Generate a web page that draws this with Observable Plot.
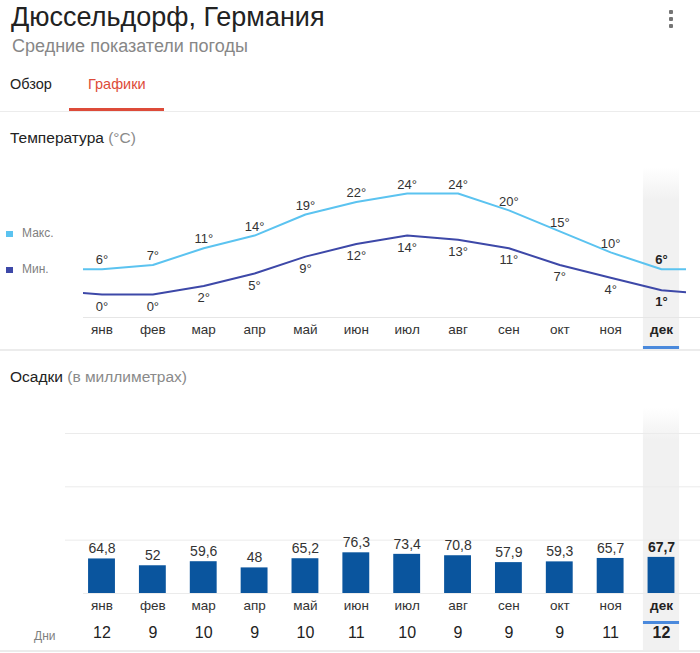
<!DOCTYPE html>
<html><head><meta charset="utf-8">
<script src="https://cdn.jsdelivr.net/npm/d3@7"></script>
<script src="https://cdn.jsdelivr.net/npm/@observablehq/plot@0.6"></script>
<style>
body{margin:0;background:#fff;font-family:"Liberation Sans",Arial,sans-serif;}
#page{position:relative;width:700px;height:653px;overflow:hidden;background:#fff;}
.abs{position:absolute;white-space:nowrap;}
.dot{position:absolute;width:4px;height:4px;border-radius:1px;background:#757575;left:669px;}
.chart{position:absolute;left:0;}
.chart svg{display:block;overflow:visible;}
</style></head><body><div id="page">
<div class="abs" style="left:11px;top:4.2px;font-size:27px;line-height:27px;color:#222">Дюссельдорф, Германия</div>
<div class="abs" style="left:12px;top:36.8px;font-size:18px;line-height:18px;color:#878787">Средние показатели погоды</div>
<div class="dot" style="top:10px"></div><div class="dot" style="top:17px"></div><div class="dot" style="top:24px"></div>
<div class="abs" style="left:10px;top:76.7px;font-size:14.5px;line-height:14.5px;color:#222">Обзор</div>
<div class="abs" style="left:88px;top:76.7px;font-size:14.5px;line-height:14.5px;color:#dd4b39">Графики</div>
<div class="abs" style="left:69px;top:107.5px;width:95px;height:3px;background:#dd4b39"></div>
<div class="abs" style="left:0;top:110.5px;width:700px;height:1.5px;background:#ececec"></div>
<div class="abs" style="left:10px;top:130px;font-size:15.5px;line-height:15.5px;color:#222">Температура <span style="color:#8a8a8a">(°C)</span></div>
<div class="abs" style="left:6px;top:230.5px;width:6.5px;height:6px;background:#5bc3f0"></div>
<div class="abs" style="left:22px;top:226.5px;font-size:12px;line-height:12px;color:#808080">Макс.</div>
<div class="abs" style="left:6px;top:266.5px;width:6.5px;height:6px;background:#3d48a8"></div>
<div class="abs" style="left:22px;top:262.5px;font-size:12px;line-height:12px;color:#808080">Мин.</div>
<div class="chart" id="temp" style="top:150px"></div>
<div class="abs" style="left:0;top:348.5px;width:700px;height:2px;background:#ececec"></div>
<div class="abs" style="left:10px;top:368.6px;font-size:15.5px;line-height:15.5px;color:#222">Осадки <span style="color:#8a8a8a">(в миллиметрах)</span></div>
<div class="chart" id="rain" style="top:400px"></div>
<div class="abs" style="left:34px;top:630px;font-size:12px;line-height:12px;color:#808080">Дни</div>
<div class="abs" style="left:0;top:650px;width:700px;height:2px;background:#ececec"></div>
</div>
<script>
const months = ["янв","фев","мар","апр","май","июн","июл","авг","сен","окт","ноя","дек"];
const maxTemp = [6,7,11,14,19,22,24,24,20,15,10,6];
const minTemp = [0,0,2,5,9,12,14,13,11,7,4,1];
const precip = [64.8,52,59.6,48,65.2,76.3,73.4,70.8,57.9,59.3,65.7,67.7];
const rainDays = [12,9,10,9,10,11,10,9,9,9,11,12];
const precipTicks = [100,200,300];
const highlight = 11;

const font = "'Liberation Sans', Arial, sans-serif";
const idx = d3.range(12);
const pts = idx.map(i => ({i, max: maxTemp[i], min: minTemp[i], p: precip[i], days: rainDays[i]}));
// continue each line into the neighbouring year (previous Dec / next Jan), clipped to the frame
const wrap = d3.range(-1, 13).map(i => ({i, max: maxTemp[(i + 12) % 12], min: minTemp[(i + 12) % 12]}));
const isHL = d => d.i === highlight;
const notHL = d => d.i !== highlight;
const fmt = v => String(v).replace(".", ",");
const half = 0.355;
const monthSize = 13.5;

const temp = Plot.plot({
  width: 700, height: 200,
  marginLeft: 83, marginRight: 14, marginTop: 17, marginBottom: 33,
  style: {fontFamily: font, fontSize: "13px", color: "#333", background: "transparent"},
  x: {type: "linear", domain: [0, 11], range: [101.5, 661]},
  y: {domain: [0, 24], range: [144, 43], axis: null},
  marks: [
    Plot.rect([highlight], {x1: d => d - half, x2: d => d + half, fill: "url(#hlT)", insetBottom: -32}),
    Plot.rect([highlight], {x1: d => d - half, x2: d => d + half, fill: "#4a89dc", insetTop: 179, insetBottom: -32}),
    Plot.frame({anchor: "bottom", stroke: "#e6e6e6", insetRight: -14}),
    Plot.line(wrap, {x: "i", y: "max", stroke: "#5bc3f0", strokeWidth: 2, clip: true}),
    Plot.line(wrap, {x: "i", y: "min", stroke: "#3d48a8", strokeWidth: 2, clip: true}),
    Plot.text(pts, {filter: notHL, x: "i", y: "max", text: d => d.max + "°", dy: -9, fill: "#333"}),
    Plot.text(pts, {filter: notHL, x: "i", y: "min", text: d => d.min + "°", dy: 12, fill: "#333"}),
    Plot.text(pts, {filter: isHL, x: "i", y: "max", text: d => d.max + "°", dy: -9, fill: "#222", fontWeight: "bold"}),
    Plot.text(pts, {filter: isHL, x: "i", y: "min", text: d => d.min + "°", dy: 12, fill: "#222", fontWeight: "bold"}),
    Plot.axisX({ticks: idx.filter(i => i !== highlight), tickFormat: i => months[i], tickSize: 0, tickPadding: 7, fill: "#333", fontSize: monthSize, label: null}),
    Plot.axisX({ticks: [highlight], tickFormat: i => months[i], tickSize: 0, tickPadding: 7, fill: "#222", fontWeight: "bold", fontSize: monthSize, label: null})
  ]
});

const rain = Plot.plot({
  width: 700, height: 253,
  marginLeft: 65, marginRight: 0, marginTop: 8, marginBottom: 60,
  style: {fontFamily: font, fontSize: "14px", color: "#333", background: "transparent"},
  x: {type: "linear", domain: [0, 11], range: [101.5, 661]},
  y: {domain: [0, 300], range: [193, 33], axis: null},
  marks: [
    Plot.rect([highlight], {x1: d => d - half, x2: d => d + half, fill: "url(#hlR)", insetBottom: -57}),
    Plot.gridY(precipTicks, {stroke: "#ebebeb", strokeOpacity: 1}),
    Plot.ruleY([0], {stroke: "#ebebeb", insetLeft: 18}),
    Plot.rect([highlight], {x1: d => d - half, x2: d => d + half, fill: "#4a89dc", insetTop: 213, insetBottom: -31}),
    Plot.rectY(pts, {x1: d => d.i - 0.5, x2: d => d.i + 0.5, y: "p", fill: "#0a559e", insetLeft: 12, insetRight: 12}),
    Plot.text(pts, {filter: notHL, x: "i", y: "p", text: d => fmt(d.p), dy: -10, fill: "#333", fontSize: 14}),
    Plot.text(pts, {filter: isHL, x: "i", y: "p", text: d => fmt(d.p), dy: -10, fill: "#222", fontSize: 14, fontWeight: "bold"}),
    Plot.axisX({ticks: idx.filter(i => i !== highlight), tickFormat: i => months[i], tickSize: 0, tickPadding: 7, fill: "#333", fontSize: monthSize, label: null}),
    Plot.axisX({ticks: [highlight], tickFormat: i => months[i], tickSize: 0, tickPadding: 7, fill: "#222", fontWeight: "bold", fontSize: monthSize, label: null}),
    Plot.text(pts, {filter: notHL, x: "i", frameAnchor: "bottom", dy: 44, text: "days", fill: "#222", fontSize: 16}),
    Plot.text(pts, {filter: isHL, x: "i", frameAnchor: "bottom", dy: 44, text: "days", fill: "#222", fontSize: 16, fontWeight: "bold"})
  ]
});

function addGradient(svg, id, fadeTo) {
  const ns = "http://www.w3.org/2000/svg";
  const defs = document.createElementNS(ns, "defs");
  const g = document.createElementNS(ns, "linearGradient");
  g.setAttribute("id", id); g.setAttribute("x1", "0"); g.setAttribute("y1", "0"); g.setAttribute("x2", "0"); g.setAttribute("y2", "1");
  [[0, 0], [fadeTo, 1], [1, 1]].forEach(([o, op]) => {
    const s = document.createElementNS(ns, "stop");
    s.setAttribute("offset", o); s.setAttribute("stop-color", "#f1f1f1"); s.setAttribute("stop-opacity", op);
    g.appendChild(s);
  });
  defs.appendChild(g);
  svg.insertBefore(defs, svg.firstChild);
}
addGradient(temp, "hlT", 0.18);
addGradient(rain, "hlR", 0.13);
document.getElementById("temp").appendChild(temp);
document.getElementById("rain").appendChild(rain);
</script>
</body></html>
